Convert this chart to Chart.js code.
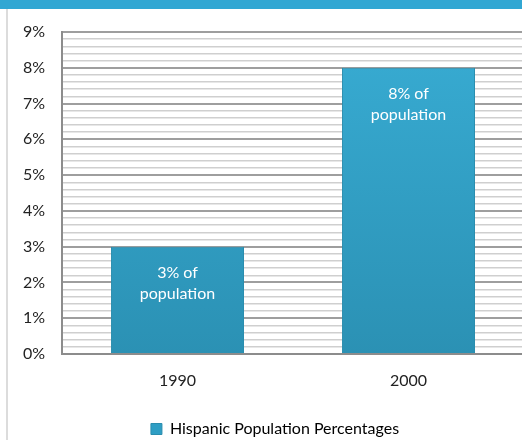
<!DOCTYPE html>
<html><head><meta charset="utf-8">
<script src="https://cdn.jsdelivr.net/npm/chart.js@4.4.1/dist/chart.umd.min.js"></script>
<style>
html,body{margin:0;padding:0;background:#fff;overflow:hidden;width:522px;height:440px;}
#wrap{position:absolute;left:0;top:0;width:550px;height:447px;}
#hdr{position:absolute;left:0;top:0;width:522px;height:9px;background:#31A7D3;z-index:2}
#lb{position:absolute;left:6px;top:9px;width:2px;height:431px;background:#DCDCDC;z-index:2}
</style></head><body>
<div id="hdr"></div><div id="lb"></div>
<div id="wrap"><canvas id="c" width="550" height="447"></canvas></div>
<script>
const categories = ["1990", "2000"];
const seriesName = "Hispanic Population Percentages";
const values = [3, 8];
const barLabels = [["3% of", "population"], ["8% of", "population"]];
const yMin = 0, yMax = 9, yMajorStep = 1, yMinorStep = 0.2;

const FONT = "Lato, 'Open Sans', sans-serif";
const isMajor = v => Math.abs(v / yMajorStep - Math.round(v / yMajorStep)) < 1e-6;

const barLabelPlugin = {
  id: 'barLabels',
  afterDatasetsDraw(chart) {
    const ctx = chart.ctx;
    const meta = chart.getDatasetMeta(0);
    ctx.save();
    ctx.fillStyle = '#FFFFFF';
    ctx.font = "16px " + FONT;
    ctx.textAlign = 'center';
    ctx.textBaseline = 'middle';
    meta.data.forEach((el, i) => {
      const lines = barLabels[i];
      lines.forEach((t, j) => ctx.fillText(t, el.x, el.y + 26 + j * 21));
    });
    ctx.restore();
  }
};

function barFill(context) {
  const chart = context.chart;
  const area = chart.chartArea;
  if (!area) return '#2E9EC4';
  const g = chart.ctx.createLinearGradient(0, area.top, 0, area.bottom);
  g.addColorStop(0, '#38ACD3');
  g.addColorStop(1, '#2B91B4');
  return g;
}

new Chart(document.getElementById('c'), {
  type: 'bar',
  data: {
    labels: categories,
    datasets: [{
      label: seriesName,
      data: values,
      backgroundColor: barFill,
      borderColor: '#2A8DAE',
      borderWidth: 1,
      categoryPercentage: 1,
      barPercentage: 0.576
    }]
  },
  options: {
    responsive: false,
    devicePixelRatio: 1,
    animation: false,
    layout: { padding: { top: 32, left: 0, right: 0, bottom: 0 } },
    plugins: {
      tooltip: { enabled: false },
      legend: {
        position: 'bottom',
        labels: {
          boxWidth: 11, boxHeight: 11, padding: 3,
          color: '#222222',
          font: { family: FONT, size: 16 },
          generateLabels: (chart) => [{
            text: seriesName, fillStyle: '#2E9EC4', strokeStyle: '#2A8DAE',
            lineWidth: 1, datasetIndex: 0
          }]
        }
      }
    },
    scales: {
      x: {
        grid: { display: false, drawTicks: false },
        border: { color: '#8C8C8C', width: 2 },
        ticks: { color: '#222222', font: { family: FONT, size: 16 }, padding: 17 },
        afterFit: (axis) => { axis.height = 64; }
      },
      y: {
        min: yMin, max: yMax,
        border: { color: '#8C8C8C', width: 2 },
        grid: {
          drawTicks: false,
          color: (c) => (c.tick && isMajor(c.tick.value)) ? '#9E9E9E' : '#CFCFCF',
          lineWidth: (c) => (c.tick && isMajor(c.tick.value)) ? 2 : 1.5
        },
        ticks: {
          stepSize: yMinorStep, autoSkip: false, maxTicksLimit: 1000,
          color: '#222222', font: { family: FONT, size: 16 }, padding: 17,
          callback: (v) => isMajor(v) ? Math.round(v) + '%' : ''
        },
        afterFit: (axis) => { axis.width = 62; }
      },
      yRight: {
        position: 'right', min: yMin, max: yMax,
        grid: { display: false, drawTicks: false },
        border: { display: false },
        ticks: { display: false },
        afterFit: (axis) => { axis.width = 26; }
      }
    }
  },
  plugins: [barLabelPlugin]
});
</script>
</body></html>
